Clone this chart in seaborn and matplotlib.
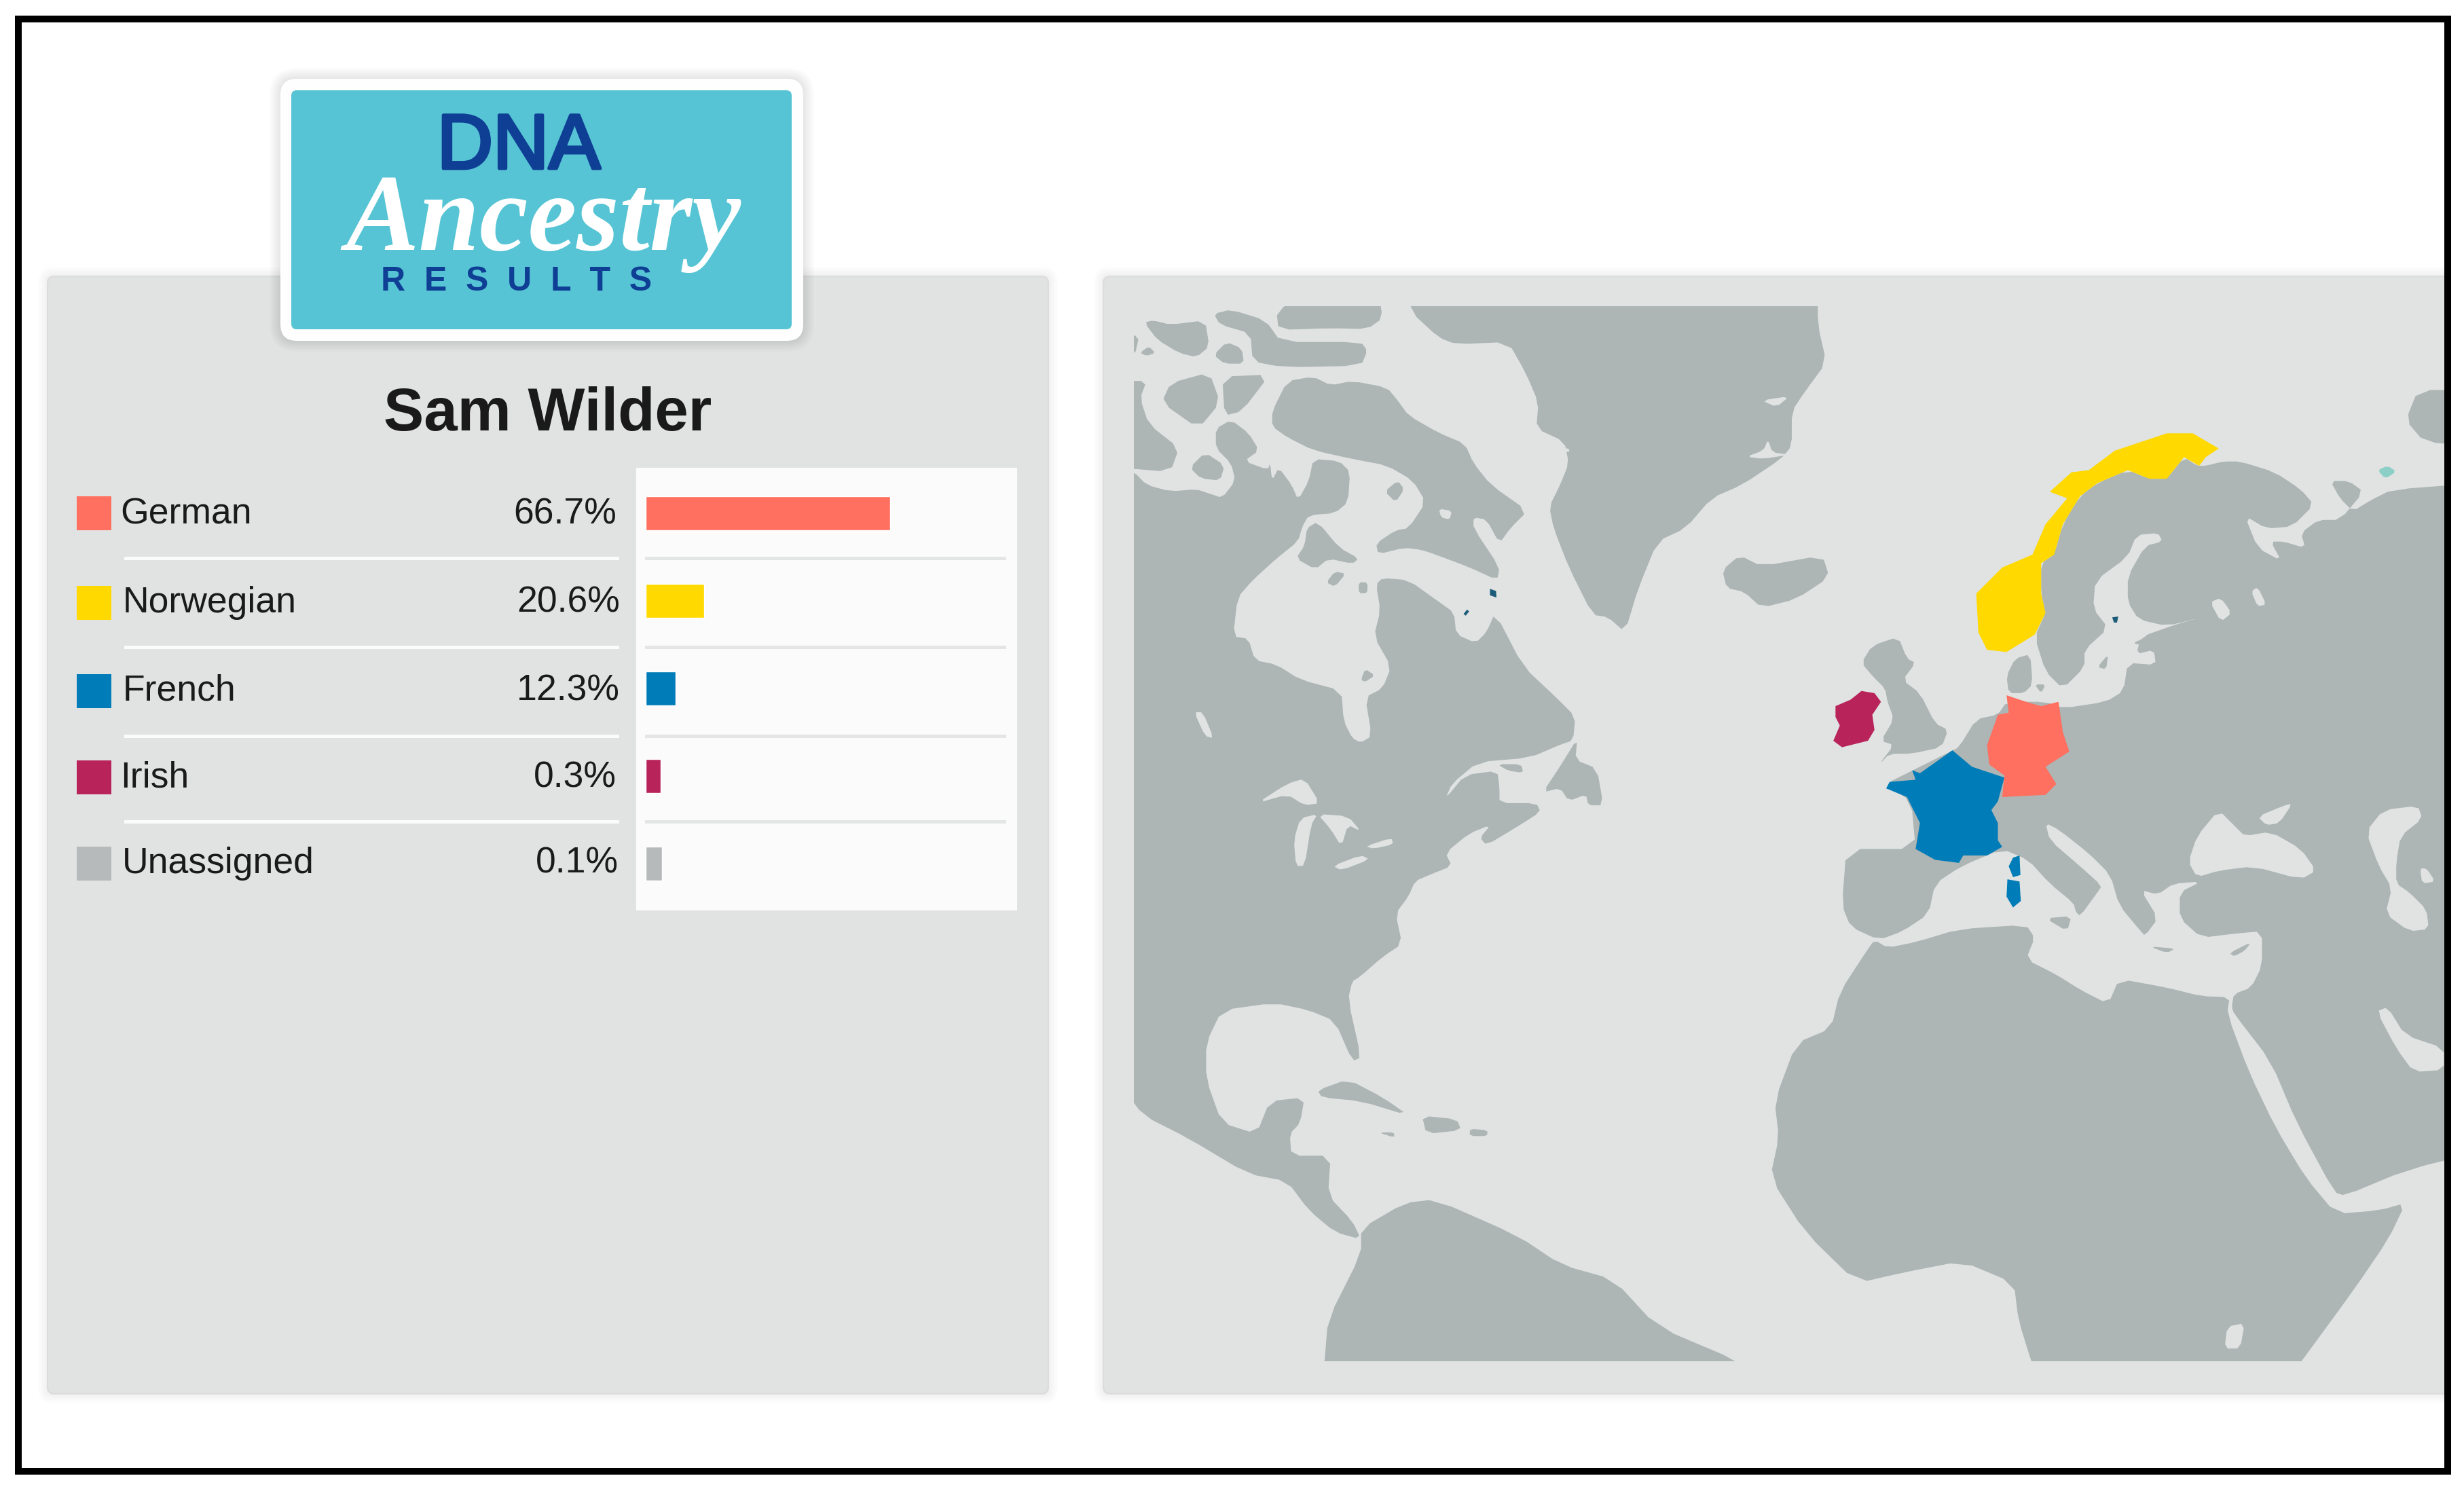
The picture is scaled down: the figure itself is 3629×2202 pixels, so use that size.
import numpy as np
import pandas as pd
import matplotlib
matplotlib.use("Agg")
import matplotlib.pyplot as plt
from matplotlib.patches import FancyBboxPatch, Rectangle
import matplotlib.patheffects as pe
import seaborn as sns

# Chart values
ancestry = ["German", "Norwegian", "French", "Irish", "Unassigned"]
percent_labels = ["66.7%", "20.6%", "12.3%", "0.3%", "0.1%"]
# the bars in the picture are not to scale, so lengths are read off it (% of the track)
bar_length = [67.8, 16.2, 8.3, 4.1, 4.5]
colors = ["#FF7060", "#FFD900", "#007DB8", "#B8235A", "#B6BABA"]

W, H = 3630, 2202
PANEL = "#E0E3E2"
LAND = "#ADB5B5"
INK = "#1A1A1A"

sns.set_theme(style="white")
plt.rcParams["font.family"] = ["Liberation Sans", "DejaVu Sans"]


# outlines were traced on three crops of the picture, each has its own scale
def from_a(pts):
    p = np.array(pts, float)
    return np.c_[1660 + p[:, 0] / 1.568, 440 + p[:, 1] / 1.568]


def from_b(pts):
    p = np.array(pts, float)
    return np.c_[2630 + p[:, 0] / 1.568, 600 + p[:, 1] / 1.568]


def from_c(pts):
    p = np.array(pts, float)
    return np.c_[1620 + p[:, 0] / 0.78, 400 + p[:, 1] / 0.933]


north_america = np.vstack([from_a([
    (-20, 395), (16, 400), (45, 430), (100, 445), (160, 440), (190, 450), (220, 460), (250, 420), (240, 380),
    (205, 345), (205, 300), (240, 280), (280, 310), (305, 350), (270, 375), (325, 395), (330, 380), (335, 420),
    (350, 390), (380, 430), (395, 465), (420, 420), (430, 370), (490, 375), (515, 400), (510, 470), (480, 495),
    (420, 500), (405, 525), (395, 560), (345, 600), (290, 650), (255, 690), (245, 780), (280, 785), (295, 835),
    (345, 845), (400, 880), (495, 905), (500, 975), (520, 1015), (540, 1025), (565, 1010), (550, 920), (590, 900),
    (610, 850), (570, 780), (585, 720), (575, 660), (590, 645), (650, 650), (720, 700), (755, 725), (760, 775),
    (805, 795), (830, 770), (850, 725), (915, 850), (990, 920), (1035, 965), (1030, 1020), (1000, 1030),
    (930, 1060), (810, 1070), (750, 1120), (735, 1155), (780, 1100), (855, 1090), (860, 1130), (860, 1165),
    (945, 1165), (955, 1185), (900, 1220), (830, 1262), (815, 1245), (840, 1215), (790, 1235), (735, 1280),
    (750, 1310), (700, 1330), (665, 1345), (650, 1380), (620, 1420), (635, 1490), (590, 1520), (535, 1568),
]), from_c([
    (290, 975), (285, 1000), (300, 1080), (290, 1085), (270, 1030), (240, 1015), (200, 1005), (140, 1015),
    (122, 1060), (122, 1110), (140, 1170), (180, 1185), (195, 1140), (235, 1135), (230, 1170), (218, 1185),
    (220, 1215), (265, 1215), (262, 1270), (290, 1305), (300, 1330), (270, 1320), (240, 1290), (215, 1250),
    (170, 1240), (100, 1190), (50, 1160), (25, 1120),
])])

south_america = from_c([(255, 1530), (258, 1498), (262, 1440), (300, 1350), (300, 1315), (350, 1280), (385, 1275),
                        (480, 1325), (530, 1365), (590, 1385), (640, 1450), (735, 1498), (760, 1530)])

greenland = from_a([
    (655, -30), (655, 30), (720, 90), (760, 105), (880, 100), (920, 170), (950, 240), (945, 300), (1010, 330),
    (1020, 380), (1000, 430), (975, 480), (985, 530), (1020, 620), (1075, 730), (1110, 735), (1150, 770),
    (1180, 670), (1225, 560), (1290, 530), (1350, 460), (1420, 430), (1510, 370), (1535, 340), (1535, 260),
    (1565, 215), (1615, 147), (1595, 60), (1595, -30),
])

arctic_islands = [from_a(p) for p in [
    [(335, 260), (370, 190), (430, 180), (470, 200), (520, 190), (600, 205), (625, 235), (650, 270), (720, 310),
     (780, 335), (800, 380), (840, 430), (925, 490), (885, 530), (860, 565), (830, 510), (800, 505), (800, 530),
     (860, 620), (855, 650), (790, 620), (710, 590), (680, 580), (640, 575), (580, 590), (575, 565), (620, 535),
     (650, 530), (690, 470), (660, 420), (600, 385), (520, 370), (430, 350), (370, 320), (335, 295)],
    [(345, 30), (420, -20), (580, -20), (590, 45), (555, 70), (470, 68), (350, 72)],
    [(200, 35), (240, 25), (320, 50), (355, 100), (540, 100), (555, 120), (540, 155), (360, 158), (290, 145),
     (285, 80), (215, 60)],
    [(40, 55), (60, 50), (100, 60), (180, 50), (190, 110), (160, 135), (120, 125), (70, 95)],
    [(200, 130), (230, 100), (265, 115), (270, 150), (225, 150)],
    [(30, 125), (50, 110), (65, 125), (45, 132)],
    [(100, 195), (190, 170), (215, 240), (165, 300), (80, 240)],
    [(220, 180), (330, 175), (265, 260), (225, 270)],
    [(-20, 190), (45, 190), (30, 230), (50, 290), (120, 345), (100, 400), (-20, 390)],
    [(145, 390), (180, 355), (225, 385), (215, 420), (170, 415)],
    [(-20, 85), (28, 85), (18, 130), (-20, 130)],
    [(415, 530), (440, 515), (490, 575), (535, 600), (520, 612), (465, 600), (435, 625), (390, 600), (410, 570)],
    [(460, 655), (480, 630), (505, 635), (480, 665)],
    [(535, 680), (535, 655), (555, 655), (555, 680)],
    [(540, 880), (550, 855), (572, 870), (550, 885)],
    [(595, 445), (625, 420), (640, 440), (620, 470)],
    [(960, 1140), (1000, 1080), (1040, 1015), (1035, 1065), (1085, 1085), (1100, 1170), (1065, 1170), (1060, 1145),
     (1020, 1160), (1000, 1130)],
    [(855, 1075), (910, 1075), (915, 1095), (880, 1090)],
]]

caribbean = [from_c(p) for p in [
    [(250, 1125), (285, 1110), (325, 1135), (355, 1160), (300, 1140), (255, 1135)],
    [(370, 1160), (410, 1165), (415, 1180), (375, 1185)],
    [(425, 1178), (445, 1180), (445, 1188), (425, 1188)],
    [(320, 1183), (338, 1183), (338, 1190)],
]]

iceland = from_c([(715, 410), (735, 390), (760, 405), (830, 390), (838, 420), (800, 450), (760, 462), (740, 440),
                  (720, 435)])

eurasia = np.vstack([from_b([
    (1600, 175), (1400, 190), (1350, 215), (1310, 240), (1280, 210), (1258, 170), (1300, 170), (1335, 195),
    (1280, 260), (1230, 260), (1190, 290), (1200, 325), (1150, 310), (1120, 310), (1145, 355), (1090, 325),
    (1060, 250), (1110, 280), (1170, 275), (1220, 225), (1190, 190), (1130, 150), (1050, 125), (1010, 125),
    (970, 135), (950, 135), (920, 115), (880, 165), (840, 165), (790, 145), (720, 175), (680, 205), (640, 270),
    (620, 340), (590, 360), (590, 430), (600, 475), (575, 530), (600, 610), (640, 650), (690, 600), (690, 560),
    (745, 510), (710, 465), (715, 400), (790, 345), (810, 295), (860, 290), (870, 310), (830, 320), (790, 390),
    (790, 450), (815, 490), (880, 505), (960, 485), (905, 500), (820, 530), (810, 570), (850, 560), (855, 595),
    (790, 590), (780, 655), (740, 680), (640, 695), (600, 680), (510, 680), (490, 710), (440, 720), (400, 785),
    (380, 795), (300, 835), (230, 870), (290, 910), (300, 1020), (140, 1020), (130, 1150), (150, 1200), (215, 1230),
    (270, 1210), (330, 1170), (345, 1100), (405, 1060), (500, 1020), (560, 1045), (610, 1100), (665, 1145),
    (670, 1165), (680, 1175), (720, 1120), (730, 1105), (680, 1060), (610, 1000), (600, 960), (630, 975), (700, 1030),
    (750, 1080), (770, 1150), (820, 1210), (830, 1220), (860, 1180), (820, 1115), (860, 1125), (895, 1100),
    (960, 1095), (910, 1120), (910, 1180), (960, 1225), (1040, 1215), (1100, 1210), (1100, 1290), (1075, 1340),
    (1035, 1355), (1030, 1385),
]), from_c([(1303, 1020), (1345, 1085), (1375, 1170), (1418, 1265), (1430, 1270), (1500, 1235), (1600, 1205)])])

africa = np.vstack([from_b([
    (205, 1230), (235, 1248), (300, 1235), (400, 1205), (555, 1195), (575, 1225), (555, 1275), (625, 1310),
    (680, 1345), (745, 1378), (770, 1320), (880, 1340), (960, 1360), (1025, 1362),
]), from_c([(1295, 1020), (1320, 1100), (1350, 1175), (1385, 1245), (1420, 1295), (1470, 1290), (1500, 1280),
            (1480, 1330), (1440, 1400), (1380, 1498), (1360, 1530), (1080, 1530), (1070, 1498), (1055, 1440),
            (1050, 1390), (990, 1360), (925, 1375), (870, 1390), (810, 1320), (770, 1245), (780, 1190), (775, 1140),
            (800, 1060), (840, 1040), (850, 990), (880, 935)])])

other_land = [from_b(p) for p in [
    [(175, 590), (200, 550), (260, 530), (280, 580), (300, 590), (270, 630), (310, 660), (345, 730), (375, 745),
     (360, 785), (290, 800), (240, 800), (215, 825), (250, 780), (220, 770), (250, 720), (235, 680), (230, 650),
     (200, 620)],
    [(510, 620), (530, 580), (565, 570), (570, 640), (550, 660), (515, 660)],
    [(575, 640), (600, 640), (590, 660)],
    [(600, 1180), (660, 1175), (650, 1210)],
    [(720, 600), (745, 570), (740, 605)],
    [(800, 545), (835, 530), (830, 550)],
    [(840, 1245), (900, 1250), (880, 1260)],
    [(1025, 1260), (1075, 1235), (1060, 1255), (1035, 1268)],
    [(1432, 30), (1460, -40), (1600, -40), (1600, 90), (1475, 80)],
]]

water = [from_a(p) for p in [
    [(300, 1165), (370, 1120), (410, 1108), (445, 1165), (410, 1170), (370, 1145)],
    [(390, 1310), (385, 1250), (400, 1200), (440, 1190), (425, 1215), (410, 1310)],
    [(440, 1190), (510, 1195), (540, 1230), (510, 1215), (495, 1265), (470, 1225)],
    [(475, 1310), (540, 1285), (560, 1295), (495, 1320)],
    [(550, 1265), (610, 1245), (615, 1260), (570, 1270)],
    [(155, 955), (175, 955), (200, 1015), (180, 1010)],
    [(720, 485), (750, 490), (745, 510), (725, 505)],
    [(1430, 365), (1470, 350), (1480, 325), (1490, 355), (1530, 360), (1470, 370)],
    [(1465, 235), (1530, 225), (1500, 250)],
    [(965, 340), (1020, 345), (1022, 355), (965, 350)],
]] + [from_b(p) for p in [
    [(930, 1050), (950, 990), (1000, 930), (1040, 970), (1060, 990), (1120, 980), (1190, 1020), (1225, 1070),
     (1190, 1090), (1080, 1060), (1000, 1070), (950, 1085)],
    [(1090, 945), (1150, 920), (1170, 915), (1140, 960), (1110, 965)],
    [(1340, 980), (1380, 930), (1460, 920), (1470, 950), (1420, 990), (1410, 1050), (1410, 1100), (1440, 1120),
     (1480, 1160), (1485, 1205), (1440, 1210), (1385, 1170), (1400, 1110), (1370, 1060)],
    [(1465, 1065), (1480, 1065), (1500, 1095), (1470, 1100)],
    [(1365, 1395), (1390, 1385), (1430, 1450), (1520, 1480), (1520, 1530), (1450, 1535), (1410, 1480)],
    [(980, 450), (1005, 440), (1030, 475), (1005, 495)],
    [(1075, 425), (1090, 415), (1110, 455), (1090, 460)],
]] + [from_c([(1295, 1450), (1315, 1445), (1310, 1480), (1292, 1480)])]

germany = from_b([(510, 665), (555, 680), (590, 690), (630, 680), (640, 750), (655, 795), (600, 830), (625, 870),
                  (600, 895), (500, 900), (505, 850), (470, 825), (465, 780), (490, 710), (515, 705)])
norway = from_b([(440, 430), (500, 370), (570, 340), (600, 270), (650, 210), (610, 195), (660, 150), (700, 145),
                 (760, 100), (880, 60), (940, 60), (1000, 95), (970, 115), (955, 135), (920, 115), (880, 165),
                 (840, 165), (790, 145), (720, 175), (680, 205), (640, 270), (620, 340), (590, 360), (590, 430),
                 (600, 475), (575, 525), (510, 565), (465, 560), (445, 520)])
france = [from_b(p) for p in [
    [(385, 792), (430, 830), (505, 855), (490, 910), (475, 930), (490, 960), (490, 1000), (500, 1015), (465, 1035),
     (410, 1035), (400, 1052), (345, 1045), (300, 1020), (310, 960), (280, 900), (232, 880), (240, 865), (300, 860),
     (292, 838), (310, 845)],
    [(525, 1040), (540, 1035), (542, 1080), (525, 1085), (515, 1060)],
    [(512, 1090), (540, 1095), (543, 1140), (525, 1155), (510, 1130)],
]]
ireland = from_b([(115, 690), (150, 675), (175, 655), (205, 660), (220, 680), (200, 710), (205, 745), (190, 770),
                  (130, 785), (110, 770), (125, 735), (115, 715)])
teal_spot = from_b([(1367, 145), (1390, 135), (1410, 148), (1385, 165)])
dark_spots = [from_a([(838, 670), (852, 675), (853, 690), (838, 685)]),
              from_a([(777, 728), (785, 718), (790, 722), (782, 732)]),
              from_b([(754, 485), (768, 483), (765, 497), (758, 497)])]

fig = plt.figure(figsize=(W / 100, H / 100), dpi=100, facecolor="white")


def px_axes(x0, y0, x1, y1, zorder):
    return fig.add_axes([x0 / W, 1 - y1 / H, (x1 - x0) / W, (y1 - y0) / H], zorder=zorder)


base = px_axes(0, 0, W, H, 0)
base.set_xlim(0, W)
base.set_ylim(H, 0)
base.axis("off")


def shadow(x0, y0, x1, y1, rad=8, spread=14, strength=0.008):
    for g in range(spread, 0, -2):
        base.add_patch(FancyBboxPatch((x0 - g, y0 - g), x1 - x0 + 2 * g, y1 - y0 + 2 * g,
                                      boxstyle=f"round,pad=0,rounding_size={rad + g}",
                                      fc="black", ec="none", alpha=strength))


# panels
shadow(70, 407, 1544, 2053)
shadow(1625, 407, 3640, 2053)
base.add_patch(FancyBboxPatch((70, 407), 1474, 1646, boxstyle="round,pad=0,rounding_size=10", fc=PANEL, ec="#DCDCDC", lw=1.5))
base.add_patch(FancyBboxPatch((1625, 407), 2015, 1646, boxstyle="round,pad=0,rounding_size=10", fc=PANEL, ec="#DCDCDC", lw=1.5))

# logo badge
shadow(413, 116, 1183, 502, rad=24, spread=16, strength=0.012)
base.add_patch(FancyBboxPatch((413, 116), 770, 386, boxstyle="round,pad=0,rounding_size=24", fc="#FDFEFD", ec="none"))
base.add_patch(FancyBboxPatch((429, 133), 737, 352, boxstyle="round,pad=0,rounding_size=8", fc="#56C4D4", ec="none"))
base.text(764, 248, "DNA", ha="center", va="baseline", fontsize=82, color="#0F3F95",
          path_effects=[pe.withStroke(linewidth=3.5, foreground="#0F3F95")])
base.text(800, 368, "Ancestry", ha="center", va="baseline", fontsize=116, color="white", style="italic",
          weight="bold", family=["Liberation Serif", "DejaVu Serif"])
base.text(761, 428, "R  E  S  U  L  T  S", ha="center", va="baseline", fontsize=36, color="#0F3F95", weight="bold")

base.text(807, 634, "Sam Wilder", ha="center", va="baseline", fontsize=64, color=INK, weight="bold")

# bar list
base.add_patch(Rectangle((937, 689), 561, 652, fc="#FBFBFB", ec="none"))
row_center = [756, 888, 1018, 1145, 1272]
baselines = [772, 902, 1031, 1159, 1286]
name_x = [177, 181, 181, 177, 180]
pct_x = [908, 913, 913, 908, 911]
for i, name in enumerate(ancestry):
    base.add_patch(Rectangle((113, row_center[i] - 25), 51, 50, fc=colors[i], ec="none"))
    base.text(name_x[i], baselines[i], name, ha="left", va="baseline", fontsize=38.5, color=INK)
    base.text(pct_x[i], baselines[i], percent_labels[i], ha="right", va="baseline", fontsize=38.5, color=INK)
for y in [822, 953, 1084, 1210]:
    base.add_patch(Rectangle((183, y - 2.5), 729, 5, fc="#FAFBFB", ec="none"))
    base.add_patch(Rectangle((950, y - 2.5), 532, 5, fc="#E4E5E5", ec="none"))

bars = px_axes(951, 691.5, 1482.5, 1336.5, 2)
df = pd.DataFrame({"ancestry": ancestry, "length": bar_length})
sns.barplot(data=df, x="length", y="ancestry", hue="ancestry", palette=colors, saturation=1, width=0.39,
            legend=False, ax=bars)
bars.set_xlim(0, 100)
bars.patch.set_alpha(0)
bars.axis("off")

# map
geo = px_axes(1670, 451, 3600, 2005, 1)
geo.set_xlim(1670, 3600)
geo.set_ylim(2005, 451)
geo.axis("off")


def rounded(outline):
    # one round of corner cutting, so the traced coast is not so angular
    nxt = np.roll(outline, -1, axis=0)
    cut = np.empty((2 * len(outline), 2))
    cut[0::2] = 0.8 * outline + 0.2 * nxt
    cut[1::2] = 0.2 * outline + 0.8 * nxt
    return cut


def paint(outline, color, smooth=True):
    shape = rounded(outline) if smooth else outline
    geo.fill(shape[:, 0], shape[:, 1], color=color, lw=0)


for shape in [north_america, south_america, greenland, iceland, eurasia, africa] + arctic_islands + caribbean + other_land:
    paint(shape, LAND)
for shape in water:
    paint(shape, PANEL)
paint(germany, colors[0], False)
paint(norway, colors[1], False)
for shape in france:
    paint(shape, colors[2], False)
paint(ireland, colors[3], False)
paint(teal_spot, "#8CCFC6")
for shape in dark_spots:
    paint(shape, "#1C5C78", False)

# white margin and black frame on top
frame = px_axes(0, 0, W, H, 5)
frame.set_xlim(0, W)
frame.set_ylim(H, 0)
frame.axis("off")
frame.patch.set_alpha(0)
frame.add_patch(Rectangle((3605, 0), 25, H, fc="white", ec="none"))
frame.add_patch(Rectangle((27, 28), 3578, 2139, fc="none", ec="black", lw=7.2, joinstyle="miter"))

fig.savefig("out.png", dpi=100)
